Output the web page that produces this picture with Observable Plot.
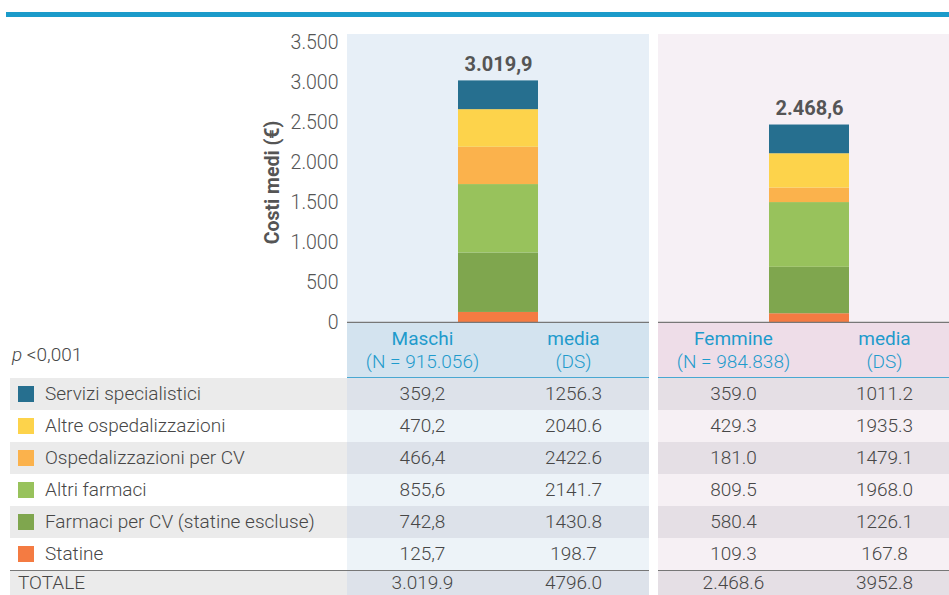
<!DOCTYPE html>
<html>
<head>
<meta charset="utf-8">
<script src="https://cdn.jsdelivr.net/npm/d3@7"></script>
<script src="https://cdn.jsdelivr.net/npm/@observablehq/plot@0.6"></script>
<style>
  html, body { margin: 0; padding: 0; background: #fff; }
  #wrap { position: relative; width: 949px; height: 595px; overflow: hidden; font-family: Roboto, "Noto Sans", sans-serif; color: #4a4a4a; }
  #wrap svg { position: absolute; left: 0; top: 0; max-width: none !important; }
  #wrap svg text { font-weight: 300; }
  .abs { position: absolute; box-sizing: border-box; }
  .cell { position: absolute; text-align: center; font-size: 19px; font-weight: 300; color: #474747; white-space: nowrap; }
</style>
</head>
<body>
<div id="wrap"></div>
<script>
// ---------------- DATA ----------------
const categories = ["Servizi specialistici", "Altre ospedalizzazioni", "Ospedalizzazioni per CV", "Altri farmaci", "Farmaci per CV (statine escluse)", "Statine"];
const colors = ["#266f8f", "#fdd34b", "#fbb24c", "#98c25c", "#7fa64e", "#f47b42"];
const groups = ["Maschi", "Femmine"];
const groupN = ["915.056", "984.838"];
const maschiMean = [359.2, 470.2, 466.4, 855.6, 742.8, 125.7];
const maschiSD = [1256.3, 2040.6, 2422.6, 2141.7, 1430.8, 198.7];
const femmineMean = [359.0, 429.3, 181.0, 809.5, 580.4, 109.3];
const femmineSD = [1011.2, 1935.3, 1479.1, 1968.0, 1226.1, 167.8];
const totals = [3019.9, 2468.6];
const totalSD = [4796.0, 3952.8];
const yTicks = [0, 500, 1000, 1500, 2000, 2500, 3000, 3500];
const pLabel = "<0,001";

// ---------------- FORMATS ----------------
const it = d3.formatLocale({decimal: ",", thousands: ".", grouping: [3], currency: ["", "€"]});
const fmtTick = it.format(",.0f");
const fmtTotIt = it.format(",.1f");
const fmtComma = it.format(".1f");
const fmtDot = d3.format(".1f");
const fmtTotDot = d3.formatLocale({decimal: ".", thousands: ".", grouping: [3], currency: ["", ""]}).format(",.1f");

// ---------------- CHART ----------------
const wrap = document.getElementById("wrap");
const rows = [];
groups.forEach((g, gi) => {
  const means = gi === 0 ? maschiMean : femmineMean;
  for (let i = categories.length - 1; i >= 0; i--) rows.push({group: g, category: categories[i], value: means[i]});
});
const totalRows = groups.map((g, i) => ({group: g, total: totals[i]}));

const chart = Plot.plot({
  width: 960,
  height: 322,
  marginTop: 34,
  marginBottom: 0,
  marginLeft: 347,
  marginRight: 0,
  style: {fontFamily: "Roboto, sans-serif", fontSize: "19.5px", color: "#555", background: "transparent", overflow: "visible", maxWidth: "none"},
  fx: {domain: groups, paddingInner: 0.029, paddingOuter: 0, axis: null, label: null},
  x: {domain: ["bar"], padding: 0.581, axis: null},
  y: {domain: [0, 3600], ticks: yTicks, tickFormat: fmtTick, tickSize: 0, tickPadding: 9, label: null},
  color: {domain: categories, range: colors},
  marks: [
    Plot.rect([groups[0]], {fx: d => d, fill: "#e7eff7"}),
    Plot.rect([groups[1]], {fx: d => d, fill: "#f6f0f5"}),
    Plot.barY(rows, {fx: "group", x: () => "bar", y: "value", fill: "category"}),
    Plot.ruleY([0], {stroke: "#777", strokeWidth: 1.5}),
    Plot.text(totalRows, {fx: "group", x: () => "bar", y: "total", text: d => fmtTotIt(d.total), dy: -16, fontWeight: "bold", fontSize: 20, fill: "#555"}),
    Plot.text([groups[0]], {fx: d => d, frameAnchor: "left", textAnchor: "middle", text: () => "Costi medi (€)", rotate: -90, dx: -75, dy: 4, fontWeight: "bold", fontSize: 19.5, fill: "#555"})
  ]
});
wrap.appendChild(chart);
chart.querySelectorAll("text").forEach(t => { if (t.getAttribute("font-weight") === "bold" || (t.parentNode && t.parentNode.getAttribute && t.parentNode.getAttribute("font-weight") === "bold")) t.style.fontWeight = "bold"; });

// ---------------- TABLE (HTML) ----------------
function box(x, y, w, h, bg) {
  const d = document.createElement("div");
  d.className = "abs";
  Object.assign(d.style, {left: x + "px", top: y + "px", width: w + "px", height: h + "px", background: bg});
  wrap.appendChild(d);
  return d;
}
function cell(x, y, w, h, html, extra) {
  const d = document.createElement("div");
  d.className = "cell";
  Object.assign(d.style, {left: x + "px", top: y + "px", width: w + "px", height: h + "px", lineHeight: h + "px"}, extra || {});
  d.innerHTML = html;
  wrap.appendChild(d);
  return d;
}

// top rule
box(6, 12, 943, 5, "#1b9bca");

const panels = [
  {x: 347, w: 302, head: "#d3e3ef", dark: "#dde2ea", light: "#edf3f8"},
  {x: 658, w: 302, head: "#eedde8", dark: "#e5dfe5", light: "#f6f0f4"}
];
const headTop = 323, headH = 54, rowTop = 378, rowH = 32;
const blue = "#1f9bcc";

// header
panels.forEach((p, pi) => {
  box(p.x, headTop, p.w, headH, p.head);
  box(p.x, headTop + headH, pi === 1 ? 949 - p.x : p.w, 1.5, "#49a8d2");
  const hw = p.w / 2;
  cell(p.x, 327, hw, 24, groups[pi], {color: blue, fontWeight: 400, lineHeight: "24px"});
  cell(p.x, 350, hw, 24, "(N = " + groupN[pi] + ")", {color: blue, fontWeight: 300, lineHeight: "24px"});
  cell(p.x + hw, 327, hw, 24, "media", {color: blue, fontWeight: 400, lineHeight: "24px"});
  cell(p.x + hw, 350, hw, 24, "(DS)", {color: blue, fontWeight: 300, lineHeight: "24px"});
});
cell(12, 340, 200, 30, "<i>p</i> " + pLabel, {textAlign: "left", lineHeight: "30px"});

// body rows
categories.forEach((c, i) => {
  const y = rowTop + i * rowH;
  const even = i % 2 === 0;
  box(10, y, 337, rowH, even ? "#ebebeb" : "#ffffff");
  box(18, y + 8, 16, 16, colors[i]);
  cell(45, y, 300, rowH, c, {textAlign: "left"});
  panels.forEach((p, pi) => {
    box(p.x, y, p.w, rowH, even ? p.dark : p.light);
    const hw = p.w / 2;
    const mean = pi === 0 ? fmtComma(maschiMean[i]) : fmtDot(femmineMean[i]);
    const sd = fmtDot(pi === 0 ? maschiSD[i] : femmineSD[i]);
    cell(p.x, y, hw, rowH, mean);
    cell(p.x + hw, y, hw, rowH, sd);
  });
});

// total row
const totTop = rowTop + categories.length * rowH;
box(10, totTop + 1, 337, rowH, "#ebebeb");
cell(18, totTop + 2, 300, 22, "TOTALE", {textAlign: "left", lineHeight: "22px"});
panels.forEach((p, pi) => {
  box(p.x, totTop + 1, p.w, rowH, p.dark);
  const hw = p.w / 2;
  cell(p.x, totTop + 2, hw, 22, fmtTotDot(totals[pi]), {lineHeight: "22px"});
  cell(p.x + hw, totTop + 2, hw, 22, fmtDot(totalSD[pi]), {lineHeight: "22px"});
});
// divider above total row
box(10, totTop - 0.5, 639, 1.5, "#777");
box(658, totTop - 0.5, 291, 1.5, "#777");
</script>
</body>
</html>
